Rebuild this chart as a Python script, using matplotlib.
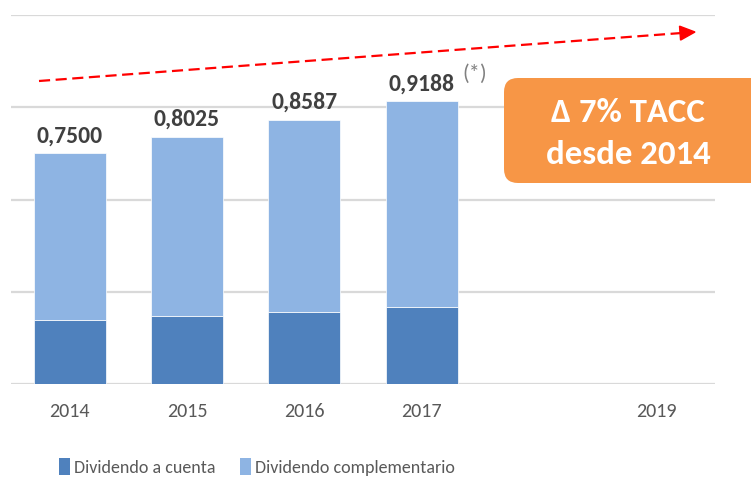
import matplotlib
matplotlib.use("Agg")
import matplotlib.pyplot as plt
from matplotlib.patches import FancyBboxPatch, Polygon, Patch
from matplotlib.lines import Line2D
from matplotlib.transforms import IdentityTransform
import numpy as np

# ---- data ----
years = ["2014", "2015", "2016", "2017", "", "2019"]
dividendo_cuenta = [0.208, 0.222, 0.235, 0.252]
dividendo_total = [0.7500, 0.8025, 0.8587, 0.9188]
dividendo_complementario = [t - c for t, c in zip(dividendo_total, dividendo_cuenta)]
total_labels = ["0,7500", "0,8025", "0,8587", "0,9188"]
series_names = ["Dividendo a cuenta", "Dividendo complementario"]

C_DARK = "#4F81BD"
C_LIGHT = "#8EB4E3"
FONT = ["Carlito", "DejaVu Sans"]

W, H = 751, 480
fig = plt.figure(figsize=(W / 100, H / 100), dpi=100)
fig.patch.set_facecolor("white")
ax = fig.add_axes([11 / W, 96 / H, 704 / W, 369 / H])

x = np.arange(len(years))
xb = np.arange(len(dividendo_total))
ax.bar(xb, dividendo_cuenta, width=0.615, color=C_DARK, zorder=3,
       edgecolor="white", linewidth=0.5)
ax.bar(xb, dividendo_complementario, bottom=dividendo_cuenta, width=0.615,
       color=C_LIGHT, zorder=3, edgecolor="white", linewidth=0.5)

for i, (t, lab) in enumerate(zip(dividendo_total, total_labels)):
    ax.annotate(lab, xy=(i, t), xytext=(0, 8), textcoords="offset points",
                ha="center", va="baseline", fontsize=17, fontweight="bold",
                color="#404040", family=FONT)

ax.annotate("(*)", xy=(3, dividendo_total[3]), xytext=(38, 20),
            textcoords="offset points", ha="center", va="center",
            fontsize=16, color="#808080", family=FONT)

ax.set_xlim(-0.5, len(years) - 0.5)
ax.set_ylim(0, 1.2)
ax.set_yticks([0, 0.3, 0.6, 0.9, 1.2])
ax.yaxis.set_tick_params(length=0, labelleft=False)
ax.grid(axis="y", color="#D9D9D9", linewidth=1.6, zorder=0)
ax.set_xticks(x)
ax.set_xticklabels(years, fontsize=14.5, color="#595959", family=FONT)
ax.tick_params(axis="x", length=0, pad=14)
for s in ax.spines.values():
    s.set_visible(False)
ax.set_facecolor("none")

# legend
handles = [Patch(facecolor=C_DARK, edgecolor="none"),
           Patch(facecolor=C_LIGHT, edgecolor="none")]
leg = fig.legend(handles, series_names, loc="center",
                 bbox_to_anchor=(257 / W, 1 - 467 / H), ncol=2, frameon=False,
                 handlelength=0.6, handleheight=1.0, handletextpad=0.2,
                 columnspacing=1.4, prop={"family": FONT, "size": 13})
for t in leg.get_texts():
    t.set_color("#595959")

# dashed trend arrow (figure pixel coords, origin bottom-left)
x0, y0 = 39, H - 81
x1, y1 = 695, H - 32
L = np.hypot(x1 - x0, y1 - y0)
ux, uy = (x1 - x0) / L, (y1 - y0) / L
hl, hw = 15, 7
bx, by = x1 - ux * hl, y1 - uy * hl
line = Line2D([x0 / W, bx / W], [y0 / H, by / H], transform=fig.transFigure,
              color="#FF0000", linewidth=1.6, linestyle=(0, (5, 2.5)))
fig.add_artist(line)
head = Polygon([[x1 / W, y1 / H],
                [(bx - uy * hw) / W, (by + ux * hw) / H],
                [(bx + uy * hw) / W, (by - ux * hw) / H]],
               closed=True, transform=fig.transFigure, color="#FF0000")
fig.add_artist(head)

# orange box
box = FancyBboxPatch((504, H - 183), 262, 105,
                     boxstyle="round,pad=0,rounding_size=14",
                     transform=IdentityTransform(), facecolor="#F79646",
                     edgecolor="none")
fig.add_artist(box)
fig.text(628 / W, 1 - 112 / H, "Δ 7% TACC", ha="center", va="center",
         fontsize=25, fontweight="bold", color="white", family=FONT)
fig.text(628 / W, 1 - 154 / H, "desde 2014", ha="center", va="center",
         fontsize=25, fontweight="bold", color="white", family=FONT)

fig.savefig("out.png", dpi=100, facecolor="white")
